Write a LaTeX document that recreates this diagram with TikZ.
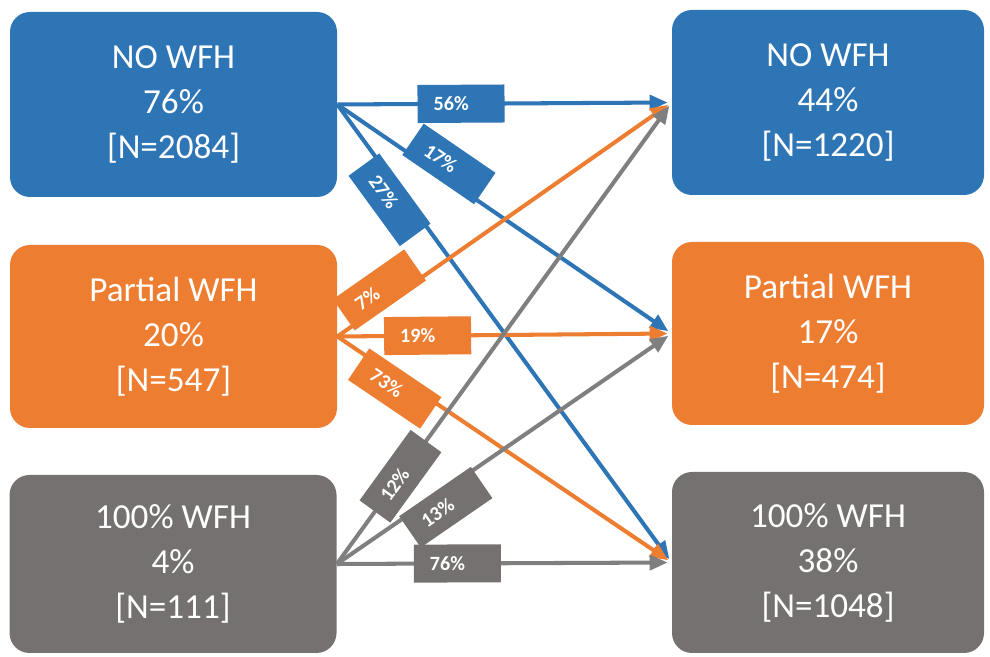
\documentclass[tikz,border=0pt]{standalone}
\usepackage{fontspec}
\setmainfont{Carlito}
\usepackage{tikz}
\usetikzlibrary{arrows.meta}
\definecolor{wfhblue}{HTML}{2E75B6}
\definecolor{wfhorange}{HTML}{ED7D31}
\definecolor{wfhgray}{HTML}{767171}
\definecolor{flowgray}{HTML}{7F7F7F}
\tikzset{
    wfhbox/.style={
        rectangle,
        rounded corners=0.4cm,
        text=white,
        align=center,
        inner sep=0pt,
        font=\fontsize{20}{25.6}\selectfont
    },
    pctbox/.style={
        rectangle,
        fill=#1,
        text=white,
        sloped,
        text width=1.1cm,
        align=left,
        inner xsep=0.32cm,
        inner ysep=0pt,
        minimum height=0.76cm,
        font=\fontsize{11.5}{12}\selectfont\bfseries
    },
    flow/.style={
        draw=#1,
        line width=2.3pt,
        -{Triangle[length=0.36cm, width=0.3cm]},
        shorten >=0.08cm
    }
}

\begin{document}
\begin{tikzpicture}
  \useasboundingbox (0,0) rectangle (19.8,13.14);

  % Before (left column)
  \node[wfhbox, fill=wfhblue, minimum width=6.54cm, minimum height=3.7cm] (noL) at (3.47,11.05) {NO WFH\\76\%\\{[N=2084]}};
  \node[wfhbox, fill=wfhorange, minimum width=6.54cm, minimum height=3.66cm] (partL) at (3.47,6.41) {Partial WFH\\20\%\\{[N=547]}};
  \node[wfhbox, fill=wfhgray, minimum width=6.54cm, minimum height=3.56cm] (fullL) at (3.46,1.86) {100\% WFH\\4\%\\{[N=111]}};

  % After (right column)
  \node[wfhbox, fill=wfhblue, minimum width=6.24cm, minimum height=3.7cm] (noR) at (16.56,11.09) {NO WFH\\44\%\\{[N=1220]}};
  \node[wfhbox, fill=wfhorange, minimum width=6.24cm, minimum height=3.66cm] (partR) at (16.56,6.47) {Partial WFH\\17\%\\{[N=474]}};
  \node[wfhbox, fill=wfhgray, minimum width=6.24cm, minimum height=3.62cm] (fullR) at (16.56,1.89) {100\% WFH\\38\%\\{[N=1048]}};

  % Flows out of NO WFH
  \draw[flow=wfhblue] (noL.east) -- node[pctbox=wfhblue, pos=0.37] {56\%} (noR.west);
  \draw[flow=wfhblue] (noL.east) -- node[pctbox=wfhblue, pos=0.31, yshift=0.28cm] {17\%} (partR.west);
  \draw[flow=wfhblue] (noL.east) -- node[pctbox=wfhblue, pos=0.19, yshift=-0.28cm] {27\%} (fullR.west);

  % Flows out of Partial WFH
  \draw[flow=wfhorange] (partL.east) -- node[pctbox=wfhorange, pos=0.15, yshift=0.28cm] {7\%} (noR.west);
  \draw[flow=wfhorange] (partL.east) -- node[pctbox=wfhorange, pos=0.27] {19\%} (partR.west);
  \draw[flow=wfhorange] (partL.east) -- node[pctbox=wfhorange, pos=0.19, yshift=-0.22cm] {73\%} (fullR.west);

  % Flows out of 100% WFH
  \draw[flow=flowgray] (fullL.east) -- node[pctbox=wfhgray, pos=0.19] {12\%} (noR.west);
  \draw[flow=flowgray] (fullL.east) -- node[pctbox=wfhgray, pos=0.3, yshift=-0.3cm] {13\%} (partR.west);
  \draw[flow=flowgray] (fullL.east) -- node[pctbox=wfhgray, pos=0.36] {76\%} (fullR.west);
\end{tikzpicture}
\end{document}
